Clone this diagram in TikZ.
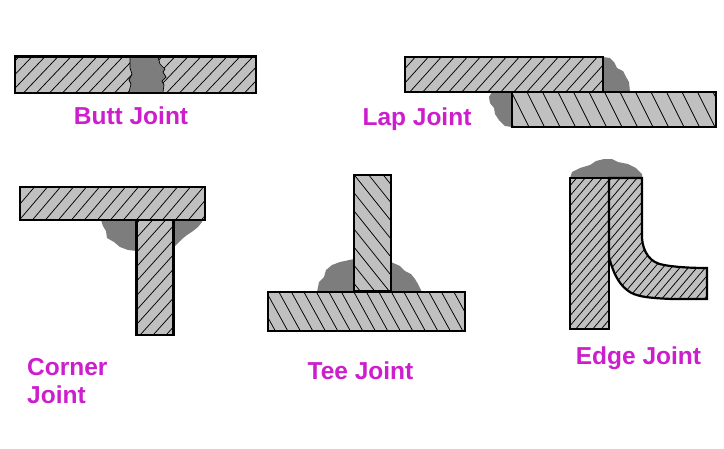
\documentclass[tikz,border=0pt]{standalone}
\usepackage{fontspec}
\setmainfont{Liberation Sans}
\definecolor{platefill}{RGB}{192,192,192}
\definecolor{weldfill}{RGB}{125,125,125}
\definecolor{labelcol}{RGB}{205,30,205}
\newcommand{\hatchshape}[4]{% path, phase, spacing, x shift per unit y
  \begin{scope}
    \clip #1;
    \foreach \k in {-20,...,110}{
      \draw[hatchline] ({#2+\k*#3-#4*224},0) -- ({#2+\k*#3+#4*224},448);
    }
  \end{scope}
}
\newcommand{\plate}[4]{%
  \fill[platefill] #1;
  \hatchshape{#1}{#2}{#3}{#4}
  \draw[plateline] #1;
}
\tikzset{
  hatchline/.style={black,line width=0.75pt},
  plateline/.style={black,line width=2.2pt,line join=miter},
  weld/.style={fill=weldfill,draw=none},
  jointlabel/.style={text=labelcol,font=\fontsize{24.5}{28}\selectfont\bfseries,inner sep=0pt}
}
\begin{document}
\begin{tikzpicture}[x=1pt,y=-1pt]
\useasboundingbox (0,0) rectangle (724,448);
\fill[white] (0,0) rectangle (724,448);

% Butt joint
\plate{(15,56.5) rectangle (256,93)}{3}{13}{-0.95}
\fill[weld] (130,57) -- (158,57) -- (160,64) -- (165,69) -- (163,72) -- (166,77) -- (162,81) -- (164,85) -- (163,92) -- (129,92) -- (131,84) -- (129,80) -- (132,74) -- (130,68) -- cycle;
\draw[black,line width=0.7pt] (130,57) -- (130,68) -- (132,74) -- (129,80) -- (131,84) -- (129,92);
\draw[black,line width=0.7pt] (158,57) -- (160,64) -- (165,69) -- (163,72) -- (166,77) -- (162,81) -- (164,85) -- (163,92);
\draw[plateline] (15,56.5) rectangle (256,93);
\node[jointlabel] (butt) at (131,116) {Butt Joint};

% Lap joint
\fill[weld] (603,57) -- (610,58) -- (614,62) -- (617,68) -- (623,71) -- (626,77) -- (629,82) -- (630,92) -- (603,92) -- cycle;
\fill[weld] (512,92) -- (492,92) -- (489,97) -- (490,103) -- (494,108) -- (495,114) -- (499,120) -- (505,126) -- (512,127) -- cycle;
\plate{(405,56.7) rectangle (603,91.7)}{5}{13}{-0.9}
\plate{(512,91.7) rectangle (716,127)}{4}{15.5}{0.5}
\node[jointlabel] (lap) at (417,119) {Lap Joint};

% Corner joint
\fill[weld] (101,220) -- (103,226) -- (106,231) -- (107,238) -- (114,242) -- (120,247) -- (128,250) -- (137,251) -- (137,220) -- cycle;
\fill[weld] (173,220) -- (173,248) -- (178,243) -- (182,239) -- (187,235) -- (193,231) -- (198,227) -- (202,222) -- (202,220) -- cycle;
\plate{(20,187) rectangle (205,220)}{3}{13}{-0.85}
\plate{(136.5,220) rectangle (173.5,335)}{6}{13}{-0.9}
\node[jointlabel,anchor=north west,align=left] (corner) at (27,358.5) {Corner\\Joint};

% Tee joint
\fill[weld] (317,292) -- (319,282) -- (324,277) -- (326,270) -- (332,265) -- (340,262) -- (354,259) -- (354,292) -- cycle;
\fill[weld] (391,262) -- (400,266) -- (405,271) -- (411,274) -- (415,279) -- (418,284) -- (422,292) -- (391,292) -- cycle;
\plate{(354,175) rectangle (391,291.5)}{2}{14.5}{0.8}
\plate{(268,292) rectangle (465,331)}{4}{12.5}{0.55}
\node[jointlabel] (tee) at (360.5,371) {Tee Joint};

% Edge joint
\fill[weld] (570,178) -- (572,172) -- (580,168) -- (590,165) -- (596,161) -- (604,159) -- (612,159) -- (618,162) -- (628,164) -- (636,168) -- (642,174) -- (642,178) -- cycle;
\plate{(570,178) rectangle (609,329)}{2}{8.5}{-0.85}
\plate{(609,178) -- (642,178) -- (642,238) .. controls (643,252) and (650,263) .. (664,265) .. controls (675,267) and (690,268) .. (707,268) -- (707,299) -- (672,299) .. controls (650,298) and (635,297) .. (627,290) .. controls (618,283) and (613,272) .. (609,257) -- cycle}{3}{8.5}{-0.85}
\node[jointlabel] (edge) at (638.5,358.5) {Edge Joint};
\end{tikzpicture}
\end{document}
